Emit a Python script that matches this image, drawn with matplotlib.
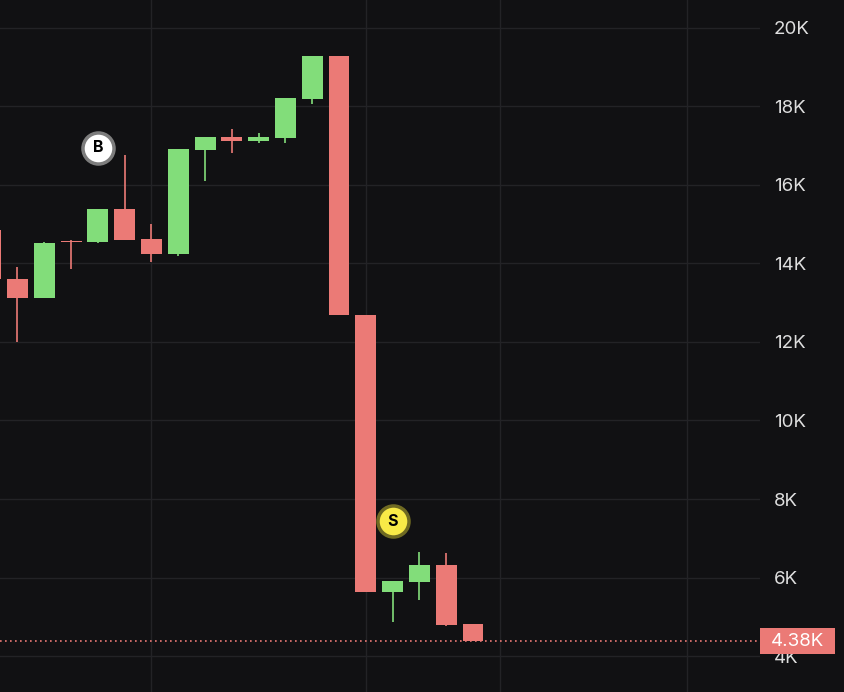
import numpy as np
import matplotlib
matplotlib.use('Agg')
import matplotlib.pyplot as plt
from matplotlib.patches import Rectangle
from matplotlib.transforms import blended_transform_factory

plt.rcParams['font.family'] = ['Inter', 'DejaVu Sans']

# velas (indice -1 queda cortada en el borde izquierdo)
idx = np.arange(-1, 18)
opens = [14850, 13605, 13128, 14548, 14548, 15388, 14624, 14242, 16892, 17223,
         17121, 17197, 18191, 19287, 12687, 5637, 5892, 6317, 4815]
highs = [14900, 13911, 14548, 14598, 15388, 16764, 15006, 16917, 17223, 17427,
         17325, 18216, 19287, 19287, 12687, 5909, 6649, 6624, 4815]
lows = [13580, 12007, 13128, 13859, 14522, 14598, 14038, 14200, 16102, 16815,
        17070, 17070, 18064, 12687, 5637, 4876, 5433, 4763, 4380]
closes = [13605, 13128, 14522, 14536, 15388, 14598, 14242, 16917, 17223, 17121,
          17223, 18216, 19287, 12687, 5637, 5909, 6317, 4789, 4380]

# marcas de compra / venta
buy_idx, buy_price = 3, 16943
sell_idx, sell_price = 14, 7439

yticks = [4000, 6000, 8000, 10000, 12000, 14000, 16000, 18000, 20000]
ylabels = ['4K', '6K', '8K', '10K', '12K', '14K', '16K', '18K', '20K']
vgrid = [5, 13, 18, 25]
last_label = '4.38K'

bg = '#111113'
up = '#82dd7a'
down = '#eb7a76'
gridc = '#232326'

fig = plt.figure(figsize=(8.44, 6.92), dpi=100)
fig.patch.set_facecolor(bg)
ax = fig.add_axes([0, 0, 760 / 844, 1])
ax.set_facecolor(bg)

o = np.array(opens, float)
c = np.array(closes, float)
h = np.array(highs, float)
l = np.array(lows, float)
cols = [up if cc >= oo else down for oo, cc in zip(o, c)]

ax.vlines(idx, l, h, colors=cols, linewidth=1.2, zorder=3)
bottoms = np.minimum(o, c)
heights = np.maximum(np.abs(c - o), 30)
ax.bar(idx, heights, bottom=bottoms, width=0.78, color=cols, linewidth=0, zorder=3)

# ultimo precio
last = closes[-1]
ax.axhline(last, color=down, linestyle=(0, (1, 2)), linewidth=1.2, zorder=2)
tr = blended_transform_factory(ax.transAxes, ax.transData)
ax.add_patch(Rectangle((1.0, last - 330), 75 / 760, 660, transform=tr,
                       facecolor=down, edgecolor='none', clip_on=False, zorder=5))
ax.text(1.0 + 38 / 760, last, last_label, transform=tr, ha='center', va='center',
        color='white', fontsize=13.5, zorder=6, clip_on=False)

# B y S
ax.scatter([buy_idx], [buy_price], s=500, c='white', edgecolors='#7d7d7d',
           linewidths=2.5, zorder=7)
ax.text(buy_idx, buy_price, 'B', ha='center', va='center', fontsize=11.5,
        fontweight='bold', color='black', zorder=8)
ax.scatter([sell_idx], [sell_price], s=500, c='#f8ea47', edgecolors='#6f6a22',
           linewidths=2.5, zorder=7)
ax.text(sell_idx, sell_price, 'S', ha='center', va='center', fontsize=11.5,
        fontweight='bold', color='black', zorder=8)

ax.set_xlim(-0.653, 27.71)
ax.set_ylim(3083, 20713)
ax.set_xticks(vgrid)
ax.set_xticklabels([])
ax.tick_params(axis='x', length=0)
ax.set_yticks(yticks)
ax.set_yticklabels(ylabels)
ax.yaxis.tick_right()
ax.tick_params(axis='y', length=0, pad=10, labelsize=13.5, labelcolor='#dedede')
ax.grid(True, color=gridc, linewidth=1)
ax.set_axisbelow(True)
for s in ax.spines.values():
    s.set_visible(False)

fig.savefig('out.png', dpi=100, facecolor=bg)
